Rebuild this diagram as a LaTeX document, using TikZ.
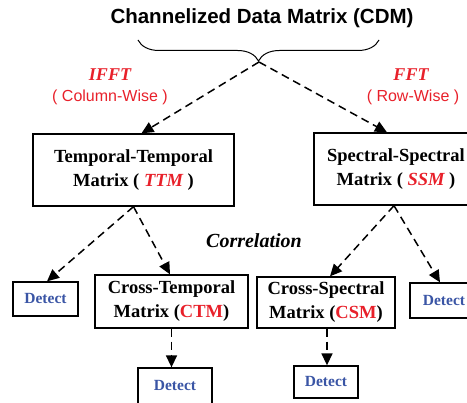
\documentclass[tikz,border=0pt]{standalone}
\usepackage{fontspec}
\setmainfont{Liberation Serif}
\setsansfont{Liberation Sans}
\usetikzlibrary{arrows.meta,decorations.pathreplacing}
\definecolor{myred}{HTML}{E8202A}
\definecolor{myblue}{HTML}{3A55A5}
\begin{document}
\begin{tikzpicture}[x=1pt,y=-1pt,
 box/.style={draw, line width=1.3pt, inner sep=0pt, align=center, font=\fontsize{18.5}{24}\selectfont\bfseries},
 det/.style={draw, line width=1.3pt, inner sep=0pt, font=\fontsize{15.5}{18}\selectfont\bfseries, text=myblue},
 conn/.style={line width=1.5pt, dash pattern=on 8pt off 5pt, -{Triangle[length=12pt,width=11pt]}},
 lab/.style={text=myred, font=\fontsize{18}{21}\selectfont\bfseries\itshape},
 sub/.style={text=myred, font=\fontsize{16}{19}\selectfont\sffamily}]
\clip (0,0) rectangle (467,403);
\node (title) at (262,18) {\fontsize{20.5}{24}\selectfont\sffamily\bfseries Channelized Data Matrix (CDM)};
\draw[decorate, decoration={brace,mirror,amplitude=21pt}, line width=1pt] (138,40) -- (379,40);
\coordinate (bt) at (259,62);

\node (ifft) at (110,75) [lab] {IFFT};
\node (cw) at (110,97) [sub] {( Column-Wise )};
\node (fft) at (411,75) [lab] {FFT};
\node (rw) at (413,97) [sub] {( Row-Wise )};

\node[box, minimum width=201pt, minimum height=72pt] (ttm) at (133.5,170) {Temporal-Temporal\\Matrix ( \textcolor{myred}{\itshape TTM} )};
\node[box, minimum width=164pt, minimum height=72pt] (ssm) at (396,169) {Spectral-Spectral\\Matrix ( \textcolor{myred}{\itshape SSM} )};

\node (corr) at (254,241) [font=\fontsize{20}{24}\selectfont\bfseries\itshape] {Correlation};

\node[box, minimum width=153pt, minimum height=53pt] (ctm) at (171.5,301.5) {Cross-Temporal\\Matrix (\textcolor{myred}{CTM})};
\node[box, minimum width=138pt, minimum height=51pt] (csm) at (326,302.5) {Cross-Spectral\\Matrix (\textcolor{myred}{CSM})};

\node[det, minimum width=65pt, minimum height=34pt] (dl) at (45.5,299) {Detect};
\node[det, minimum width=68pt, minimum height=35pt] (dr) at (444,300.5) {Detect};
\node[det, minimum width=74pt, minimum height=36pt] (dctm) at (175,386) {Detect};
\node[det, minimum width=64pt, minimum height=32pt] (dcsm) at (326,382) {Detect};

\draw[conn] (bt) -- ([xshift=8pt]ttm.north);
\draw[conn] (bt) -- ([xshift=-9pt]ssm.north);
\draw[conn] (ttm.south) -- ([xshift=1.5pt]dl.north);
\draw[conn] (ttm.south) -- ([xshift=-1.5pt]ctm.north);
\draw[conn] ([xshift=-2pt]ssm.south) -- ([xshift=4pt]csm.north);
\draw[conn] ([xshift=-2pt]ssm.south) -- ([xshift=-4pt]dr.north);
\draw[conn] (ctm.south) -- ([xshift=-3.5pt]dctm.north);
\draw[conn] ([xshift=1pt]csm.south) -- ([xshift=1pt]dcsm.north);
\end{tikzpicture}
\end{document}
